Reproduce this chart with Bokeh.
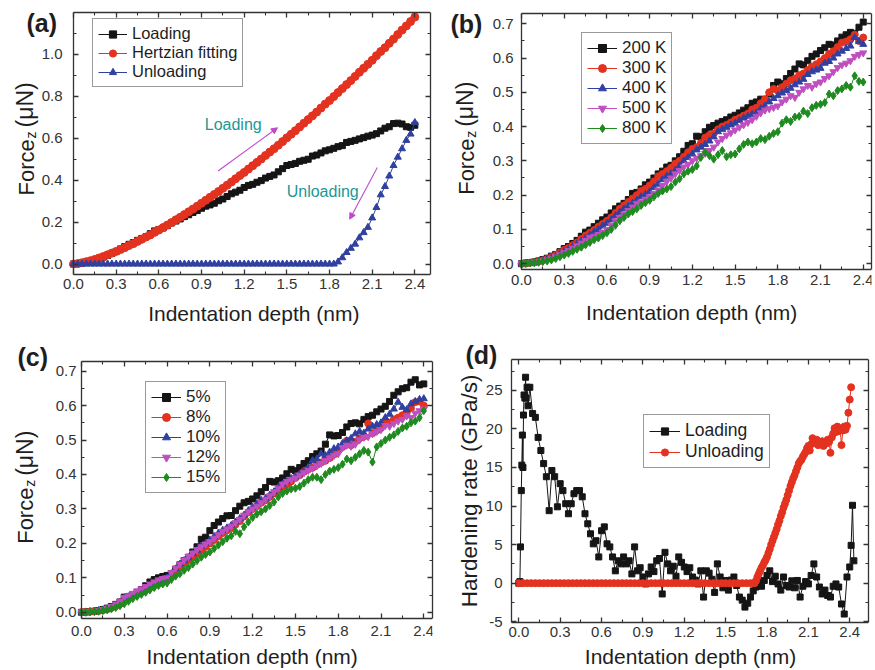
import math
from bokeh.plotting import figure
from bokeh.layouts import row, column
from bokeh.models import (Range1d, FixedTicker, LinearAxis, Legend, LegendItem,
                          Label, Arrow, NormalHead, NumeralTickFormatter,
                          CustomJSTickFormatter, ColumnDataSource)
from bokeh.embed import file_html
from bokeh.resources import INLINE

# ---------------- data ----------------
DEPTH = [0.00, 0.03, 0.06, 0.09, 0.12, 0.15, 0.18, 0.21, 0.24, 0.27,
         0.30, 0.33, 0.36, 0.39, 0.42, 0.45, 0.48, 0.51, 0.54, 0.57,
         0.60, 0.63, 0.66, 0.69, 0.72, 0.75, 0.78, 0.81, 0.84, 0.87,
         0.90, 0.93, 0.96, 0.99, 1.02, 1.05, 1.08, 1.11, 1.14, 1.17,
         1.20, 1.23, 1.26, 1.29, 1.32, 1.35, 1.38, 1.41, 1.44, 1.47,
         1.50, 1.53, 1.56, 1.59, 1.62, 1.65, 1.68, 1.71, 1.74, 1.77,
         1.80, 1.83, 1.86, 1.89, 1.92, 1.95, 1.98, 2.01, 2.04, 2.07,
         2.10, 2.13, 2.16, 2.19, 2.22, 2.25, 2.28, 2.31, 2.34, 2.37,
         2.40]

# (a) force vs depth
A_LOADING = [0.000, 0.002, 0.004, 0.008, 0.012, 0.018, 0.025, 0.033, 0.041, 0.050,
             0.060, 0.072, 0.083, 0.094, 0.102, 0.113, 0.122, 0.131, 0.145, 0.158,
             0.165, 0.172, 0.183, 0.196, 0.205, 0.215, 0.226, 0.235, 0.246, 0.255,
             0.266, 0.276, 0.282, 0.290, 0.302, 0.310, 0.322, 0.335, 0.343, 0.352,
             0.365, 0.375, 0.380, 0.390, 0.398, 0.410, 0.418, 0.425, 0.440, 0.455,
             0.470, 0.475, 0.480, 0.490, 0.495, 0.500, 0.515, 0.520, 0.530, 0.540,
             0.545, 0.552, 0.560, 0.565, 0.580, 0.585, 0.590, 0.597, 0.603, 0.610,
             0.615, 0.622, 0.635, 0.648, 0.655, 0.670, 0.672, 0.668, 0.655, 0.652,
             0.662]
A_HERTZ = [0.000, 0.002, 0.006, 0.011, 0.016, 0.022, 0.029, 0.036, 0.044, 0.052,
           0.060, 0.069, 0.078, 0.088, 0.097, 0.108, 0.118, 0.129, 0.139, 0.151,
           0.162, 0.174, 0.186, 0.198, 0.211, 0.223, 0.236, 0.249, 0.262, 0.276,
           0.290, 0.304, 0.318, 0.332, 0.346, 0.361, 0.376, 0.391, 0.407, 0.422,
           0.437, 0.453, 0.469, 0.485, 0.501, 0.518, 0.534, 0.550, 0.567, 0.584,
           0.602, 0.619, 0.636, 0.654, 0.672, 0.689, 0.707, 0.725, 0.744, 0.763,
           0.780, 0.799, 0.818, 0.837, 0.856, 0.875, 0.895, 0.915, 0.934, 0.953,
           0.972, 0.994, 1.014, 1.032, 1.053, 1.073, 1.095, 1.116, 1.136, 1.157,
           1.178]
A_UNLOADING = [0.000, 0.000, 0.000, 0.000, 0.000, 0.000, 0.000, 0.000, 0.000, 0.000,
               0.000, 0.000, 0.000, 0.000, 0.000, 0.000, 0.000, 0.000, 0.000, 0.000,
               0.000, 0.000, 0.000, 0.000, 0.000, 0.000, 0.000, 0.000, 0.000, 0.000,
               0.000, 0.000, 0.000, 0.000, 0.000, 0.000, 0.000, 0.000, 0.000, 0.000,
               0.000, 0.000, 0.000, 0.000, 0.000, 0.000, 0.000, 0.000, 0.000, 0.000,
               0.000, 0.000, 0.000, 0.000, 0.000, 0.000, 0.000, 0.000, 0.000, 0.000,
               0.000, 0.000, 0.010, 0.030, 0.055, 0.075, 0.095, 0.125, 0.150, 0.175,
               0.220, 0.270, 0.330, 0.370, 0.420, 0.470, 0.510, 0.550, 0.590, 0.620,
               0.675]

# (b) temperature
B_200K = [0.000, 0.002, 0.003, 0.005, 0.008, 0.012, 0.016, 0.022, 0.027, 0.035,
          0.044, 0.050, 0.059, 0.068, 0.080, 0.092, 0.098, 0.108, 0.118, 0.128,
          0.136, 0.148, 0.160, 0.168, 0.176, 0.187, 0.205, 0.208, 0.218, 0.230,
          0.238, 0.250, 0.262, 0.270, 0.282, 0.287, 0.300, 0.312, 0.328, 0.345,
          0.350, 0.372, 0.370, 0.385, 0.398, 0.403, 0.410, 0.415, 0.420, 0.428,
          0.433, 0.440, 0.448, 0.455, 0.468, 0.472, 0.480, 0.478, 0.495, 0.520,
          0.530, 0.525, 0.540, 0.555, 0.568, 0.583, 0.580, 0.592, 0.605, 0.612,
          0.622, 0.630, 0.640, 0.638, 0.650, 0.661, 0.668, 0.675, 0.672, 0.690,
          0.705]
B_300K = [0.000, 0.001, 0.003, 0.004, 0.007, 0.010, 0.014, 0.019, 0.025, 0.032,
          0.040, 0.046, 0.054, 0.062, 0.072, 0.082, 0.090, 0.098, 0.108, 0.116,
          0.125, 0.135, 0.148, 0.160, 0.170, 0.180, 0.190, 0.200, 0.212, 0.218,
          0.228, 0.240, 0.255, 0.262, 0.270, 0.280, 0.292, 0.300, 0.312, 0.325,
          0.335, 0.340, 0.352, 0.368, 0.375, 0.380, 0.392, 0.400, 0.405, 0.412,
          0.420, 0.425, 0.432, 0.438, 0.450, 0.455, 0.468, 0.480, 0.500, 0.510,
          0.505, 0.515, 0.525, 0.535, 0.540, 0.550, 0.555, 0.565, 0.575, 0.582,
          0.590, 0.600, 0.612, 0.620, 0.632, 0.645, 0.648, 0.655, 0.668, 0.650,
          0.660]
B_400K = [0.000, 0.001, 0.002, 0.004, 0.006, 0.009, 0.012, 0.016, 0.021, 0.028,
          0.036, 0.042, 0.050, 0.058, 0.066, 0.075, 0.083, 0.092, 0.100, 0.110,
          0.118, 0.128, 0.140, 0.150, 0.160, 0.168, 0.176, 0.185, 0.195, 0.202,
          0.210, 0.222, 0.232, 0.245, 0.255, 0.262, 0.272, 0.285, 0.300, 0.310,
          0.320, 0.332, 0.340, 0.348, 0.358, 0.370, 0.385, 0.392, 0.398, 0.405,
          0.410, 0.418, 0.425, 0.430, 0.436, 0.440, 0.452, 0.460, 0.472, 0.482,
          0.490, 0.498, 0.505, 0.512, 0.522, 0.530, 0.538, 0.552, 0.560, 0.565,
          0.570, 0.585, 0.590, 0.600, 0.612, 0.620, 0.628, 0.635, 0.660, 0.648,
          0.640]
B_500K = [0.000, 0.001, 0.002, 0.003, 0.005, 0.008, 0.011, 0.015, 0.020, 0.026,
          0.032, 0.038, 0.045, 0.052, 0.060, 0.068, 0.076, 0.080, 0.085, 0.092,
          0.100, 0.112, 0.125, 0.135, 0.145, 0.155, 0.165, 0.175, 0.180, 0.188,
          0.195, 0.205, 0.215, 0.228, 0.240, 0.250, 0.262, 0.272, 0.282, 0.290,
          0.300, 0.308, 0.315, 0.322, 0.330, 0.340, 0.355, 0.365, 0.375, 0.382,
          0.390, 0.398, 0.405, 0.412, 0.420, 0.430, 0.440, 0.448, 0.452, 0.456,
          0.460, 0.472, 0.480, 0.490, 0.485, 0.500, 0.510, 0.520, 0.515, 0.525,
          0.530, 0.540, 0.548, 0.560, 0.572, 0.580, 0.585, 0.592, 0.605, 0.610,
          0.615]
B_800K = [0.000, 0.001, 0.002, 0.003, 0.004, 0.006, 0.008, 0.011, 0.015, 0.020,
          0.025, 0.030, 0.036, 0.042, 0.048, 0.055, 0.062, 0.070, 0.075, 0.082,
          0.090, 0.100, 0.112, 0.125, 0.135, 0.145, 0.152, 0.160, 0.170, 0.178,
          0.185, 0.195, 0.205, 0.212, 0.218, 0.225, 0.238, 0.248, 0.262, 0.270,
          0.275, 0.285, 0.310, 0.325, 0.315, 0.305, 0.318, 0.330, 0.312, 0.318,
          0.320, 0.335, 0.348, 0.355, 0.350, 0.355, 0.365, 0.362, 0.372, 0.380,
          0.385, 0.410, 0.420, 0.415, 0.428, 0.430, 0.445, 0.438, 0.455, 0.462,
          0.465, 0.470, 0.495, 0.490, 0.505, 0.510, 0.520, 0.515, 0.548, 0.532,
          0.530]

# (c) strain
C_5 = [0.000, 0.001, 0.002, 0.003, 0.005, 0.008, 0.012, 0.017, 0.023, 0.030,
       0.044, 0.046, 0.050, 0.058, 0.066, 0.077, 0.088, 0.095, 0.100, 0.104,
       0.107, 0.112, 0.125, 0.138, 0.150, 0.160, 0.175, 0.190, 0.212, 0.218,
       0.237, 0.252, 0.262, 0.272, 0.280, 0.281, 0.295, 0.308, 0.318, 0.322,
       0.329, 0.338, 0.350, 0.362, 0.380, 0.378, 0.382, 0.390, 0.402, 0.415,
       0.411, 0.420, 0.432, 0.440, 0.452, 0.460, 0.468, 0.488, 0.515, 0.512,
       0.513, 0.522, 0.538, 0.548, 0.550, 0.547, 0.560, 0.568, 0.572, 0.582,
       0.590, 0.598, 0.612, 0.630, 0.640, 0.649, 0.652, 0.668, 0.675, 0.660,
       0.663]
C_8 = [0.000, 0.001, 0.002, 0.003, 0.004, 0.006, 0.009, 0.013, 0.018, 0.025,
       0.040, 0.042, 0.047, 0.054, 0.060, 0.066, 0.074, 0.080, 0.085, 0.090,
       0.095, 0.105, 0.118, 0.130, 0.142, 0.152, 0.160, 0.170, 0.180, 0.190,
       0.200, 0.210, 0.220, 0.230, 0.238, 0.245, 0.255, 0.265, 0.278, 0.290,
       0.300, 0.308, 0.318, 0.325, 0.335, 0.345, 0.355, 0.365, 0.372, 0.380,
       0.390, 0.398, 0.408, 0.415, 0.420, 0.428, 0.435, 0.440, 0.448, 0.458,
       0.470, 0.480, 0.498, 0.485, 0.495, 0.505, 0.510, 0.548, 0.520, 0.528,
       0.535, 0.555, 0.550, 0.560, 0.565, 0.572, 0.580, 0.592, 0.610, 0.612,
       0.600]
C_10 = [0.000, 0.001, 0.002, 0.003, 0.005, 0.007, 0.010, 0.015, 0.020, 0.028,
        0.042, 0.045, 0.050, 0.056, 0.062, 0.068, 0.075, 0.083, 0.090, 0.096,
        0.100, 0.112, 0.126, 0.140, 0.150, 0.158, 0.170, 0.180, 0.192, 0.200,
        0.210, 0.220, 0.230, 0.238, 0.245, 0.252, 0.262, 0.272, 0.282, 0.295,
        0.305, 0.315, 0.325, 0.330, 0.340, 0.350, 0.362, 0.372, 0.380, 0.388,
        0.395, 0.402, 0.410, 0.420, 0.440, 0.445, 0.460, 0.455, 0.465, 0.475,
        0.480, 0.490, 0.498, 0.505, 0.518, 0.525, 0.520, 0.532, 0.540, 0.545,
        0.550, 0.565, 0.575, 0.590, 0.610, 0.595, 0.588, 0.605, 0.612, 0.618,
        0.620]
C_12 = [0.000, 0.001, 0.002, 0.003, 0.005, 0.008, 0.012, 0.017, 0.024, 0.032,
        0.043, 0.048, 0.055, 0.062, 0.068, 0.075, 0.082, 0.088, 0.094, 0.098,
        0.100, 0.115, 0.128, 0.140, 0.152, 0.162, 0.172, 0.182, 0.190, 0.198,
        0.205, 0.215, 0.225, 0.235, 0.242, 0.250, 0.260, 0.270, 0.282, 0.292,
        0.300, 0.308, 0.318, 0.328, 0.338, 0.350, 0.360, 0.372, 0.380, 0.385,
        0.390, 0.398, 0.405, 0.412, 0.418, 0.425, 0.432, 0.440, 0.448, 0.455,
        0.460, 0.478, 0.485, 0.482, 0.488, 0.500, 0.508, 0.510, 0.518, 0.525,
        0.530, 0.542, 0.540, 0.548, 0.555, 0.560, 0.570, 0.565, 0.578, 0.585,
        0.590]
C_15 = [0.000, 0.000, 0.001, 0.002, 0.003, 0.005, 0.007, 0.010, 0.014, 0.019,
        0.025, 0.032, 0.040, 0.046, 0.052, 0.058, 0.065, 0.072, 0.078, 0.082,
        0.085, 0.095, 0.105, 0.112, 0.122, 0.130, 0.140, 0.150, 0.160, 0.168,
        0.175, 0.185, 0.195, 0.205, 0.215, 0.222, 0.235, 0.228, 0.248, 0.262,
        0.275, 0.285, 0.292, 0.300, 0.310, 0.320, 0.335, 0.345, 0.352, 0.358,
        0.360, 0.365, 0.375, 0.385, 0.392, 0.392, 0.385, 0.400, 0.410, 0.415,
        0.420, 0.430, 0.445, 0.440, 0.450, 0.460, 0.470, 0.465, 0.436, 0.480,
        0.490, 0.500, 0.508, 0.515, 0.525, 0.535, 0.540, 0.550, 0.555, 0.565,
        0.585]

# (d) hardening rate
D_LOAD_X = [0.000, 0.008, 0.012, 0.018, 0.022, 0.026, 0.030, 0.034, 0.038, 0.044,
            0.049, 0.053, 0.060, 0.067,
            0.08, 0.10, 0.12, 0.14, 0.16, 0.18, 0.20, 0.22, 0.24, 0.26,
            0.28, 0.30, 0.32, 0.34, 0.36, 0.38, 0.40, 0.42, 0.44, 0.46,
            0.48, 0.50, 0.52, 0.54, 0.56, 0.58, 0.60, 0.62, 0.64, 0.66,
            0.68, 0.70, 0.72, 0.74, 0.76, 0.78, 0.80, 0.82, 0.84, 0.86,
            0.88, 0.90, 0.92, 0.94, 0.96, 0.98, 1.00, 1.02, 1.04, 1.06,
            1.08, 1.10, 1.12, 1.14, 1.16, 1.18, 1.20, 1.22, 1.24, 1.26,
            1.28, 1.30, 1.32, 1.34, 1.36, 1.38, 1.40, 1.42, 1.44, 1.46,
            1.48, 1.50, 1.52, 1.54, 1.56, 1.58, 1.60, 1.62, 1.64, 1.66,
            1.68, 1.70, 1.72, 1.74, 1.76, 1.78, 1.80, 1.82, 1.84, 1.86,
            1.88, 1.90, 1.92, 1.94, 1.96, 1.98, 2.00, 2.02, 2.04, 2.06,
            2.08, 2.10, 2.12, 2.14, 2.16, 2.18, 2.20, 2.22, 2.24, 2.26,
            2.28, 2.30, 2.32, 2.34, 2.36, 2.38, 2.40,
            2.41, 2.42, 2.43]
D_LOAD_Y = [0.0, 0.2, 4.7, 12.0, 15.3, 19.2, 15.0, 21.8, 24.4, 24.0,
            26.7, 24.0, 25.4, 23.0,
            25.4, 22.0, 21.5, 18.9, 17.2, 15.5, 13.8, 9.4, 14.6, 13.8,
            9.9, 12.9, 12.0, 10.3, 9.0, 10.3, 11.6, 12.0, 12.0, 11.2,
            9.0, 7.7, 6.4, 5.1, 5.5, 3.4, 6.8, 7.3, 5.1, 4.7,
            3.4, 1.6, 2.9, 2.5, 3.4, 2.5, 2.9, 1.2, 4.7, 1.6,
            2.0, 0.8, -0.1, 1.2, 2.1, 1.5, 2.9, 3.2, -1.4, 4.0,
            2.5, 1.6, 2.2, 0.9, 3.4, 2.7, 2.1, 1.5, 2.0, 0.8,
            0.4, -0.1, 1.6, -1.8, 1.6, 1.3, 0.5, -1.2, 2.5, 0.8,
            -0.6, 0.35, -0.9, 0.4, 0.8, -0.3, -1.8, -2.2, -3.1, -2.6,
            -1.8, -1.0, -0.5, 0.3, -0.4, 0.35, 1.0, 1.6, 0.2, 0.9,
            -0.1, -0.9, 0.8, -0.3, -0.5, 0.3, -0.6, 0.35, -1.8, -0.4,
            0.2, -0.1, 1.0, 2.5, 0.8, -0.5, -1.4, -0.9, -1.6, -1.8,
            -0.4, -0.1, -0.5, -2.7, -4.0, 0.8, 2.1,
            4.9, 10.1, 2.9]
D_UNLOAD_X = [0.00, 0.03, 0.06, 0.09, 0.12, 0.15, 0.18, 0.21, 0.24, 0.27,
              0.30, 0.33, 0.36, 0.39, 0.42, 0.45, 0.48, 0.51, 0.54, 0.57,
              0.60, 0.63, 0.66, 0.69, 0.72, 0.75, 0.78, 0.81, 0.84, 0.87,
              0.90, 0.93, 0.96, 0.99, 1.02, 1.05, 1.08, 1.11, 1.14, 1.17,
              1.20, 1.23, 1.26, 1.29, 1.32, 1.35, 1.38, 1.41, 1.44, 1.47,
              1.50, 1.53, 1.56, 1.59, 1.62, 1.65, 1.68, 1.71,
              1.72, 1.73, 1.74, 1.75, 1.76, 1.77, 1.78, 1.79, 1.80, 1.81,
              1.82, 1.83, 1.84, 1.85, 1.86, 1.87, 1.88, 1.89, 1.90, 1.91,
              1.92, 1.93, 1.94, 1.95, 1.96, 1.97, 1.98, 1.99, 2.00, 2.01,
              2.02, 2.03, 2.04, 2.05, 2.06, 2.07, 2.08, 2.09, 2.10, 2.11,
              2.12, 2.13, 2.14, 2.15, 2.16, 2.17, 2.18, 2.19, 2.20, 2.21,
              2.22, 2.23, 2.24, 2.25, 2.26, 2.27, 2.28, 2.29, 2.30, 2.31,
              2.32, 2.33, 2.34, 2.35, 2.36, 2.37, 2.38, 2.39, 2.40, 2.41]
D_UNLOAD_Y = [0.0, 0.0, 0.0, 0.0, 0.0, 0.0, 0.0, 0.0, 0.0, 0.0,
              0.0, 0.0, 0.0, 0.0, 0.0, 0.0, 0.0, 0.0, 0.0, 0.0,
              0.0, 0.0, 0.0, 0.0, 0.0, 0.0, 0.0, 0.0, 0.0, 0.0,
              0.0, 0.0, 0.0, 0.0, 0.0, 0.0, 0.0, 0.0, 0.0, 0.0,
              0.0, 0.0, 0.0, 0.0, 0.0, 0.0, 0.0, 0.0, 0.0, 0.0,
              0.0, 0.0, 0.0, 0.0, 0.0, 0.0, 0.0, 0.0,
              0.3, 0.8, 1.2, 1.6, 2.0, 2.3, 2.7, 3.0, 3.4, 3.9,
              4.4, 5.0, 5.5, 6.0, 6.5, 7.0, 7.6, 8.1, 8.7, 9.2,
              9.8, 10.3, 10.8, 11.4, 12.0, 12.6, 13.1, 13.6, 14.0, 14.5,
              15.0, 15.5, 15.8, 16.0, 16.4, 16.7, 17.0, 17.5, 17.8, 17.2,
              18.0, 18.8, 18.5, 18.2, 18.6, 17.9, 18.3, 18.0, 18.4, 17.8,
              18.2, 18.1, 18.6, 18.3, 16.9, 18.9, 19.4, 20.1, 19.6, 20.3,
              19.7, 20.0, 17.9, 19.8, 20.3, 19.9, 20.4, 22.1, 23.8, 25.4]

# ticks
X_TICKS = [0.0, 0.3, 0.6, 0.9, 1.2, 1.5, 1.8, 2.1, 2.4]
X_MINOR = [0.15, 0.45, 0.75, 1.05, 1.35, 1.65, 1.95, 2.25]
A_Y_TICKS = [0.0, 0.2, 0.4, 0.6, 0.8, 1.0]
A_Y_MINOR = [0.1, 0.3, 0.5, 0.7, 0.9, 1.1]
BC_Y_TICKS = [0.0, 0.1, 0.2, 0.3, 0.4, 0.5, 0.6, 0.7]
BC_Y_MINOR = [0.05, 0.15, 0.25, 0.35, 0.45, 0.55, 0.65]
D_Y_TICKS = [-5, 0, 5, 10, 15, 20, 25]
D_Y_MINOR = [-2.5, 2.5, 7.5, 12.5, 17.5, 22.5, 27.5]

# ---------------- style ----------------
FONT = "Liberation Sans"
AXC = "#333333"
TXT = "#1e1e1e"
BLACK = "#151515"
RED = "#e3321f"
BLUE = "#3040a0"
MAGENTA = "#bf4fbf"
GREEN = "#1f8a1f"
TEAL = "#1b9797"
ARROW = "#c048cc"
XTITLE = "Indentation depth (nm)"


def style_axis(ax, ticks, minor, bounds, fmt=None):
    ax.ticker = FixedTicker(ticks=ticks, minor_ticks=minor)
    ax.bounds = bounds
    ax.axis_line_color = AXC
    ax.axis_line_width = 1.3
    ax.major_tick_line_color = AXC
    ax.major_tick_line_width = 1.3
    ax.minor_tick_line_color = AXC
    ax.minor_tick_line_width = 1.1
    ax.major_tick_in = 5
    ax.major_tick_out = 0
    ax.minor_tick_in = 3
    ax.minor_tick_out = 0
    if fmt is None:
        ax.formatter = CustomJSTickFormatter(code="return ''")
        ax.major_label_standoff = 0
        ax.major_label_text_font_size = "2px"
    else:
        ax.formatter = NumeralTickFormatter(format=fmt)
        ax.major_label_text_font = FONT
        ax.major_label_text_font_size = "15px"
        ax.major_label_text_color = AXC


def make_panel(w, h, box, xbox, ybox, yt, ym, yfmt, xstand, ystand):
    """box = (left, right, top, bottom) distances in px from the canvas edges
    to the axes box.  The frame covers the canvas (bar a thin right strip),
    the left/top/bottom axes are pinned to the box, so texts drawn around
    the box stay visible."""
    left, right, top, bottom = box
    bw = w - right - left
    bh = h - bottom - top
    pxu = bw / (xbox[1] - xbox[0])
    pyu = bh / (ybox[1] - ybox[0])
    xr = (xbox[0] - left / pxu, xbox[1])
    yr = (ybox[0] - bottom / pyu, ybox[1] + top / pyu)
    p = figure(width=w, height=h, x_range=Range1d(*xr), y_range=Range1d(*yr),
               output_backend="svg", toolbar_location=None,
               min_border_left=0, min_border_right=right,
               min_border_top=0, min_border_bottom=0)
    p.xgrid.visible = False
    p.ygrid.visible = False
    p.outline_line_color = None
    p.background_fill_color = "white"
    p.border_fill_color = "white"
    xa = p.xaxis[0]
    ya = p.yaxis[0]
    style_axis(xa, X_TICKS, X_MINOR, xbox, "0.0")
    style_axis(ya, yt, ym, ybox, yfmt)
    xa.fixed_location = ybox[0]
    ya.fixed_location = xbox[0]
    xa.major_label_standoff = xstand
    ya.major_label_standoff = ystand
    topax = LinearAxis(fixed_location=ybox[1])
    style_axis(topax, X_TICKS, X_MINOR, xbox)
    p.add_layout(topax, "above")
    rightax = LinearAxis()
    style_axis(rightax, yt, ym, ybox)
    p.add_layout(rightax, "right")
    return p


def series(p, x, y, color, marker, size):
    src = ColumnDataSource(dict(x=x, y=y))
    l = p.line("x", "y", source=src, line_color=color, line_width=1)
    s = p.scatter("x", "y", source=src, marker=marker, size=size,
                  fill_color=color, line_color=color)
    return [l, s]


def add_legend(p, entries, loc, font_size, row_h, padding, glyph_w):
    items = [LegendItem(label=lab, renderers=rs) for lab, rs in entries]
    lg = Legend(items=items, location=loc)
    lg.border_line_color = AXC
    lg.border_line_width = 1.3
    lg.background_fill_color = "white"
    lg.background_fill_alpha = 1.0
    lg.label_text_font = FONT
    lg.label_text_font_size = font_size
    lg.label_text_color = TXT
    lg.glyph_width = glyph_w
    lg.glyph_height = row_h
    lg.label_height = row_h
    lg.padding = padding
    lg.spacing = 0
    lg.margin = 0
    lg.label_standoff = 5
    p.add_layout(lg)


def add_text(p, x, y, text, size, bold=False, angle=0.0, color=TXT, align="left"):
    # (x, y): screen position of the text's vertical middle, from the
    # bottom-left corner of the frame
    p.add_layout(Label(x=x, y=y, x_units="screen", y_units="screen", text=text,
                       text_font=FONT, text_font_size=size,
                       text_font_style="bold" if bold else "normal",
                       angle=angle, text_align=align, text_baseline="middle",
                       text_color=color))


def add_force_title(p, sx, sy):
    add_text(p, sx, sy, "Force", "22px", angle=math.pi / 2)
    add_text(p, sx + 4.5, sy + 57, "z", "14px", angle=math.pi / 2)
    add_text(p, sx - 1, sy + 68, "(μN)", "23px", angle=math.pi / 2)


# ---------------- panel (a) ----------------
pa = make_panel(435, 330, (73, 5, 12, 56), (0.0, 2.51), (-0.05, 1.2),
                A_Y_TICKS, A_Y_MINOR, "0.0", 4, 11)
ra1 = series(pa, DEPTH, A_LOADING, BLACK, "square", 6)
ra2 = series(pa, DEPTH, A_HERTZ, RED, "circle", 8)
ra3 = series(pa, DEPTH, A_UNLOADING, BLUE, "triangle", 7)
add_legend(pa, [("Loading", ra1), ("Hertzian fitting", ra2), ("Unloading", ra3)],
           (92, 243), "16.5px", 18, 5, 29)
add_text(pa, 26, 307.5, "(a)", "25px", bold=True)
add_force_title(pa, 25.5, 135)
add_text(pa, 253.3, 17.3, XTITLE, "21px", align="center")
pa.add_layout(Label(x=0.923, y=0.6665, text="Loading", text_font=FONT,
                    text_font_size="16px", text_color=TEAL,
                    text_align="left", text_baseline="middle"))
pa.add_layout(Label(x=1.499, y=0.345, text="Unloading", text_font=FONT,
                    text_font_size="16px", text_color=TEAL,
                    text_align="left", text_baseline="middle"))
pa.add_layout(Arrow(end=NormalHead(size=6, fill_color=ARROW, line_color=ARROW, line_width=1),
                    x_start=1.016, y_start=0.444, x_end=1.434, y_end=0.650,
                    line_color=ARROW, line_width=1.1))
pa.add_layout(Arrow(end=NormalHead(size=6, fill_color=ARROW, line_color=ARROW, line_width=1),
                    x_start=2.136, y_start=0.46, x_end=1.942, y_end=0.214,
                    line_color=ARROW, line_width=1.1))

# ---------------- panel (b) ----------------
pb = make_panel(438, 330, (86, 2, 13, 61), (0.0, 2.458), (-0.017, 0.73),
                BC_Y_TICKS, BC_Y_MINOR, "0.0", 5, 8)
rb1 = series(pb, DEPTH, B_200K, BLACK, "square", 6)
rb2 = series(pb, DEPTH, B_300K, RED, "circle", 7)
rb3 = series(pb, DEPTH, B_400K, BLUE, "triangle", 7)
rb4 = series(pb, DEPTH, B_500K, MAGENTA, "inverted_triangle", 7)
rb5 = series(pb, DEPTH, B_800K, GREEN, "diamond", 8)
add_legend(pb, [("200 K", rb1), ("300 K", rb2), ("400 K", rb3), ("500 K", rb4), ("800 K", rb5)],
           (146, 186), "17px", 20, 5, 30)
add_text(pb, 15, 307, "(b)", "25px", bold=True)
add_force_title(pb, 30.5, 135.7)
add_text(pb, 256.2, 18.3, XTITLE, "21px", align="center")

# ---------------- panel (c) ----------------
pc = make_panel(435, 338, (81, 3, 31, 50), (0.0, 2.461), (-0.018, 0.728),
                BC_Y_TICKS, BC_Y_MINOR, "0.0", 7, 5)
rc1 = series(pc, DEPTH, C_5, BLACK, "square", 6)
rc2 = series(pc, DEPTH, C_8, RED, "circle", 7)
rc3 = series(pc, DEPTH, C_10, BLUE, "triangle", 7)
rc4 = series(pc, DEPTH, C_12, MAGENTA, "inverted_triangle", 7)
rc5 = series(pc, DEPTH, C_15, GREEN, "diamond", 8)
add_legend(pc, [("5%", rc1), ("8%", rc2), ("10%", rc3), ("12%", rc4), ("15%", rc5)],
           (145, 175), "17px", 20, 5, 30)
add_text(pc, 17, 312, "(c)", "25px", bold=True)
add_force_title(pc, 25, 124.7)
add_text(pc, 251.7, 12.3, XTITLE, "21px", align="center")

# ---------------- panel (d) ----------------
pd_ = make_panel(438, 338, (76, 5, 29, 46), (-0.053, 2.536), (-5.1, 29.0),
                 D_Y_TICKS, D_Y_MINOR, "0", 4, 9)
rd1 = series(pd_, D_LOAD_X, D_LOAD_Y, BLACK, "square", 6)
rd2 = series(pd_, D_UNLOAD_X, D_UNLOAD_Y, RED, "circle", 7)
add_legend(pd_, [("Loading", rd1), ("Unloading", rd2)], (208, 200), "17.5px", 18, 5, 31)
add_text(pd_, 30, 314, "(d)", "25px", bold=True)
add_text(pd_, 34.2, 61.3, "Hardening rate (GPa/s)", "22.5px", angle=math.pi / 2)
add_text(pd_, 255, 12.3, XTITLE, "21px", align="center")

layout = column(row(pa, pb, spacing=0), row(pc, pd_, spacing=0), spacing=0)

open("out.html", "w").write(file_html(layout, INLINE))
